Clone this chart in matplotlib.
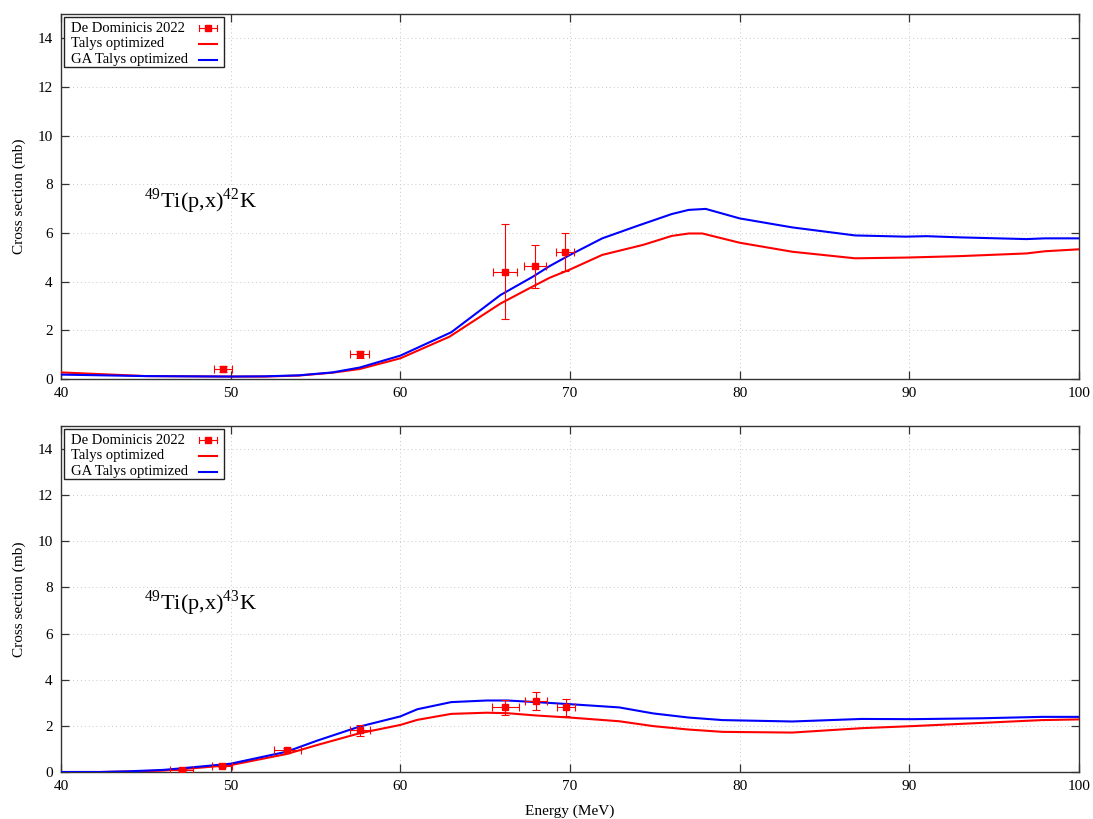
import matplotlib
matplotlib.use("Agg")
import matplotlib.pyplot as plt
from matplotlib.lines import Line2D
from matplotlib.patches import Rectangle

plt.rcParams['font.family'] = ['Liberation Serif', 'DejaVu Serif']
plt.rcParams['mathtext.fontset'] = 'custom'
plt.rcParams['mathtext.rm'] = 'Liberation Serif'

# ---------------- data: 49Ti(p,x)42K ----------------
exp42_E = [49.55, 57.6, 66.18, 67.94, 69.7]
exp42_dE = [0.54, 0.57, 0.72, 0.65, 0.53]
exp42_sig = [0.41, 1.01, 4.41, 4.63, 5.23]
exp42_dsig = [0.12, 0.15, 1.96, 0.87, 0.79]

talys42_E = [40, 45, 50, 52, 54, 56, 57.6, 60, 62.9, 65.9, 67.8, 68.8, 70, 71.9,
             74.3, 76, 77, 77.8, 80, 83.1, 86.8, 89.8, 93, 96.9, 98, 100]
talys42 = [0.27, 0.12, 0.10, 0.10, 0.14, 0.26, 0.41, 0.85, 1.74, 3.10, 3.80, 4.16, 4.50, 5.10,
           5.51, 5.88, 5.98, 5.98, 5.60, 5.23, 4.96, 4.99, 5.05, 5.16, 5.25, 5.33]

ga42_E = [40, 45, 50, 52, 54, 56, 57.6, 60, 61, 63, 65.9, 67.8, 68.8, 70, 71.9,
          74, 76, 77, 78, 80, 83.1, 86.8, 89.8, 91, 93, 96.9, 98, 100]
ga42 = [0.18, 0.12, 0.10, 0.11, 0.15, 0.27, 0.47, 0.96, 1.28, 1.92, 3.45, 4.20, 4.64, 5.10, 5.78,
        6.30, 6.78, 6.95, 6.99, 6.60, 6.23, 5.90, 5.85, 5.87, 5.82, 5.75, 5.78, 5.78]

# ---------------- data: 49Ti(p,x)43K ----------------
exp43_E = [47.12, 49.5, 53.34, 57.63, 66.19, 67.99, 69.75]
exp43_dE = [0.67, 0.60, 0.80, 0.57, 0.78, 0.66, 0.54]
exp43_sig = [0.09, 0.28, 0.96, 1.81, 2.80, 3.09, 2.80]
exp43_dsig = [0.05, 0.06, 0.08, 0.24, 0.34, 0.39, 0.37]

talys43_E = [40, 42.3, 44, 46, 47.1, 50, 53.3, 55.1, 57.6, 60, 61, 63, 65.1, 66.3, 68, 70,
             72.9, 74.9, 77, 79, 83.1, 87.2, 90.2, 94.3, 97.8, 100]
talys43 = [0.0, 0.0, 0.02, 0.06, 0.12, 0.30, 0.78, 1.17, 1.68, 2.04, 2.26, 2.52, 2.57, 2.55, 2.45, 2.36,
           2.20, 1.99, 1.84, 1.74, 1.71, 1.90, 1.99, 2.13, 2.25, 2.28]

ga43_E = talys43_E
ga43 = [0.0, 0.0, 0.03, 0.09, 0.16, 0.36, 0.88, 1.36, 1.97, 2.41, 2.72, 3.03, 3.10, 3.10, 3.03, 2.94,
        2.80, 2.54, 2.36, 2.25, 2.19, 2.30, 2.29, 2.33, 2.39, 2.39]

legend_labels = ['De Dominicis 2022', 'Talys optimized', 'GA Talys optimized']
xticks = [40, 50, 60, 70, 80, 90, 100]
yticks = [0, 2, 4, 6, 8, 10, 12, 14]

RED = '#ff0000'
BLUE = '#0000ff'
W, H = 1093, 819
fig = plt.figure(figsize=(W / 100, H / 100), dpi=100)


def fx(px):
    return px / W


def fy(py):
    return 1 - py / H


def make_ax(top, bottom):
    left, right = 61, 1079
    return fig.add_axes([fx(left), fy(bottom), (right - left) / W, (bottom - top) / H])


def legend(top):
    # gnuplot-style key: text left, sample right, boxed
    fig.add_artist(Rectangle((fx(64), fy(top + 53)), (224 - 64) / W, 50 / H,
                             transform=fig.transFigure, fill=True, facecolor='white',
                             edgecolor='#222222', lw=1.0, zorder=10))
    rows = [top + 14, top + 30, top + 46]
    for lab, r in zip(legend_labels, rows):
        fig.text(fx(71), fy(r), lab, fontsize=10.5, ha='left', va='center', zorder=11)
    r = rows[0]
    fig.add_artist(Line2D([fx(199), fx(217)], [fy(r), fy(r)], transform=fig.transFigure,
                          color=RED, lw=0.8, zorder=11))
    for cx in (199, 217):
        fig.add_artist(Line2D([fx(cx), fx(cx)], [fy(r - 3), fy(r + 3)], transform=fig.transFigure,
                              color=RED, lw=0.8, zorder=11))
    fig.add_artist(Line2D([fx(208)], [fy(r)], transform=fig.transFigure, marker='s', ms=5,
                          color=RED, lw=0, zorder=12))
    fig.add_artist(Line2D([fx(199), fx(217)], [fy(rows[1]), fy(rows[1])], transform=fig.transFigure,
                          color=RED, lw=1.5, zorder=11))
    fig.add_artist(Line2D([fx(199), fx(217)], [fy(rows[2]), fy(rows[2])], transform=fig.transFigure,
                          color=BLUE, lw=1.5, zorder=11))


def draw(ax, eE, edE, esig, edsig, tE, t, gE, g, label, xlabel):
    ax.set_xlim(40, 100)
    ax.set_ylim(0, 15)
    ax.set_xticks(xticks)
    ax.set_yticks(yticks)
    ax.grid(True, linestyle=(0, (1, 3)), color='#c8c8c8', linewidth=0.7)
    ax.set_axisbelow(True)
    for s in ax.spines.values():
        s.set_color('#333333')
        s.set_linewidth(1.0)
    ax.tick_params(direction='in', length=6, width=0.9, color='#333333',
                   top=True, right=True, labelsize=11, pad=6)
    ax.plot(tE, t, color=RED, lw=1.5, zorder=3)
    ax.plot(gE, g, color=BLUE, lw=1.5, zorder=3)
    ax.errorbar(eE, esig, xerr=edE, yerr=edsig, fmt='s', color=RED, ms=5,
                elinewidth=0.8, capsize=3, capthick=0.8, zorder=4)
    ax.set_ylabel('Cross section (mb)', fontsize=11, labelpad=8)
    if xlabel:
        ax.set_xlabel('Energy (MeV)', fontsize=11, labelpad=8)
    ax.text(48.25, 7.3, label, fontsize=16, ha='center', va='center')


ax1 = make_ax(14, 379)
draw(ax1, exp42_E, exp42_dE, exp42_sig, exp42_dsig, talys42_E, talys42, ga42_E, ga42,
     r'$^{49}$Ti(p,x)$^{42}$K', False)
legend(14)

ax2 = make_ax(426, 772)
draw(ax2, exp43_E, exp43_dE, exp43_sig, exp43_dsig, talys43_E, talys43, ga43_E, ga43,
     r'$^{49}$Ti(p,x)$^{43}$K', True)
legend(426)

fig.savefig('out.png', dpi=100)
